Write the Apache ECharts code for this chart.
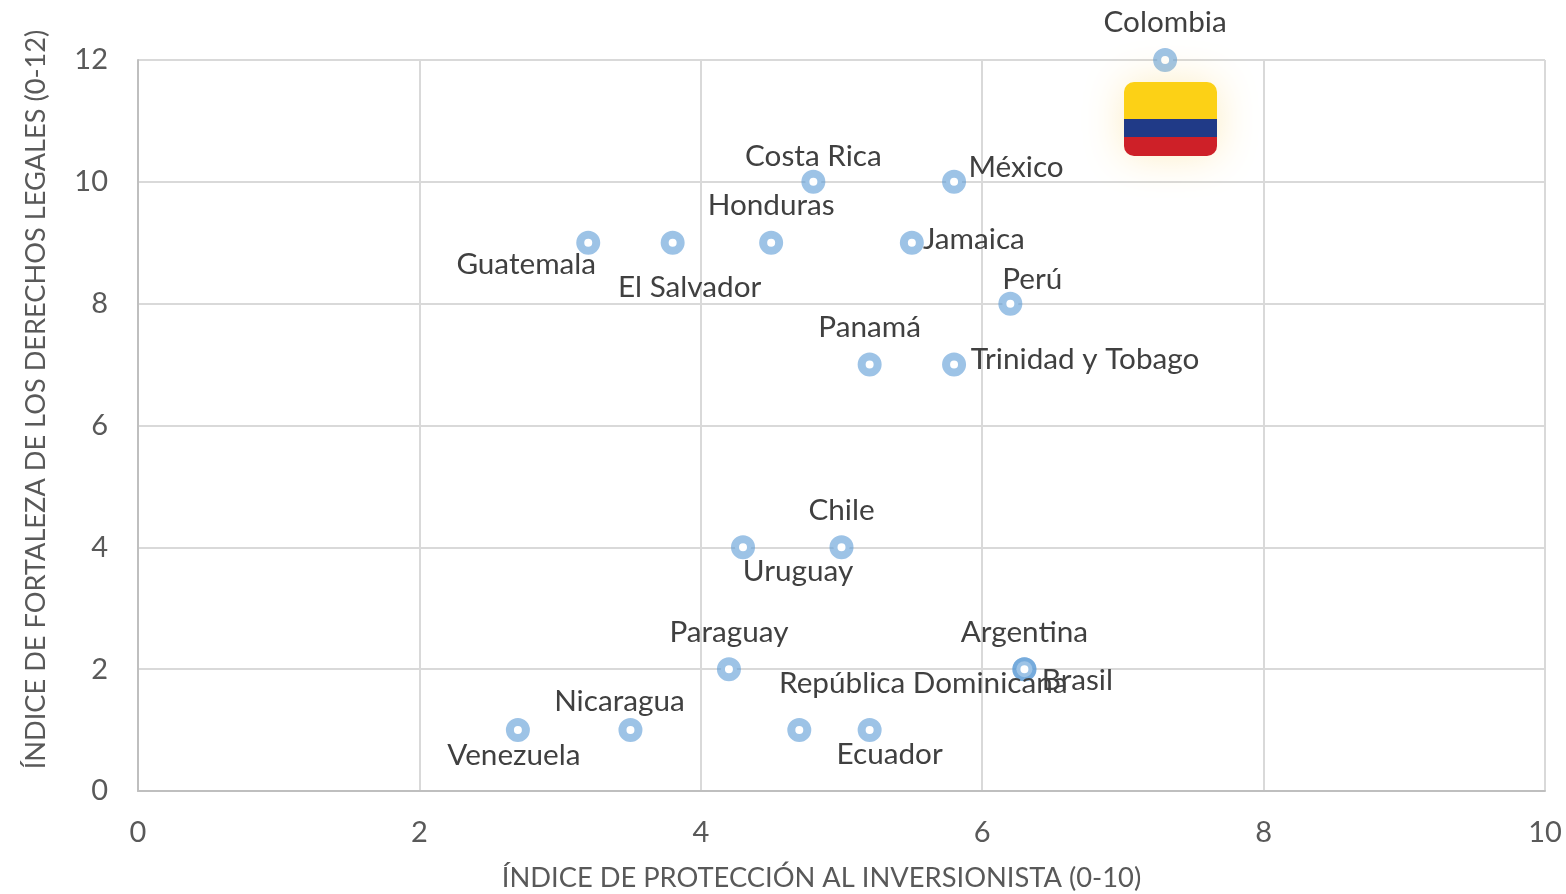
<!DOCTYPE html>
<html><head><meta charset="utf-8">
<style>html,body{margin:0;padding:0;background:#fff}#c{width:1566px;height:894px}</style>
<script src="https://cdn.jsdelivr.net/npm/echarts@6/dist/echarts.min.js"></script>
</head><body><div id="c"></div>
<script>
const countries = ['Colombia','Costa Rica','México','Honduras','Jamaica','Guatemala','El Salvador','Perú','Panamá','Trinidad y Tobago','Chile','Uruguay','Paraguay','Argentina','Brasil','República Dominicana','Ecuador','Nicaragua','Venezuela'];
const investorProtection = [7.3,4.8,5.8,4.5,5.5,3.2,3.8,6.2,5.2,5.8,5.0,4.3,4.2,6.3,6.3,4.7,5.2,3.5,2.7];
const legalRights = [12,10,10,9,9,9,9,8,7,7,4,4,2,2,2,1,1,1,1];
const xTitle = 'ÍNDICE DE PROTECCIÓN AL INVERSIONISTA (0-10)';
const yTitle = 'ÍNDICE DE FORTALEZA DE LOS DERECHOS LEGALES (0-12)';

// label placement only (offset from each point, px)
const labelOffsets = [[0,-38],[0,-25],[62,-14],[0,-37],[62,-3],[-62,22],[17,45],[22,-24],[0,-37],[131,-5],[0,-37],[55,24],[0,-37],[0,-37],[53,11],[124,-47],[20,24],[-11,-29],[-4,25]];

const FONT = 'Lato, "Open Sans", sans-serif';
const chart = echarts.init(document.getElementById('c'), null, {renderer:'canvas'});
chart.setOption({
  animation:false,
  backgroundColor:'#fff',
  grid:{left:138,top:60,width:1407,height:731,containLabel:false,outerBoundsMode:'none'},
  xAxis:{type:'value',min:0,max:10,interval:2,
    name:xTitle,nameLocation:'middle',nameGap:74,
    nameTextStyle:{fontFamily:FONT,fontSize:27.3,color:'#595959',padding:[0,40,0,0]},
    axisLine:{show:true,onZero:false,lineStyle:{color:'#bfbfbf',width:2}},axisTick:{show:false},
    axisLabel:{fontFamily:FONT,fontSize:29,color:'#595959',margin:27,showMinLabel:true,showMaxLabel:true},
    splitLine:{show:true,lineStyle:{color:'#d9d9d9',width:2}}},
  yAxis:{type:'value',min:0,max:12,interval:2,
    name:yTitle,nameLocation:'middle',nameGap:88,
    nameTextStyle:{fontFamily:FONT,fontSize:27.2,color:'#595959',padding:[0,0,0,52]},
    axisLine:{show:true,onZero:false,lineStyle:{color:'#bfbfbf',width:2}},axisTick:{show:false},
    axisLabel:{fontFamily:FONT,fontSize:29,color:'#595959',margin:30,verticalAlignMinLabel:'middle',verticalAlignMaxLabel:'middle'},
    splitLine:{show:true,lineStyle:{color:'#d9d9d9',width:2}}},
  graphic:[{type:'rect',z:10,shape:{x:1124,y:82,width:93,height:74,r:10},
    style:{fill:new echarts.graphic.LinearGradient(0,0,0,1,[
      {offset:0,color:'#fcd116'},{offset:0.5,color:'#fcd116'},
      {offset:0.5,color:'#203a87'},{offset:0.75,color:'#203a87'},
      {offset:0.75,color:'#ce2028'},{offset:1,color:'#ce2028'}]),
      shadowBlur:40,shadowColor:'rgba(250,200,70,0.32)'}}],
  series:[{type:'scatter',symbol:'circle',symbolSize:16,clip:false,
    data:countries.map((n,i)=>({name:n,value:[investorProtection[i],legalRights[i]],
      label:{offset:labelOffsets[i]}})),
    itemStyle:{color:'#fff',borderColor:'rgba(91,155,213,0.6)',borderWidth:8,opacity:1},
    label:{show:true,position:'inside',align:'center',verticalAlign:'middle',
      formatter:p=>p.name,fontFamily:FONT,fontSize:29.7,color:'#404040'}}]
});
</script></body></html>
